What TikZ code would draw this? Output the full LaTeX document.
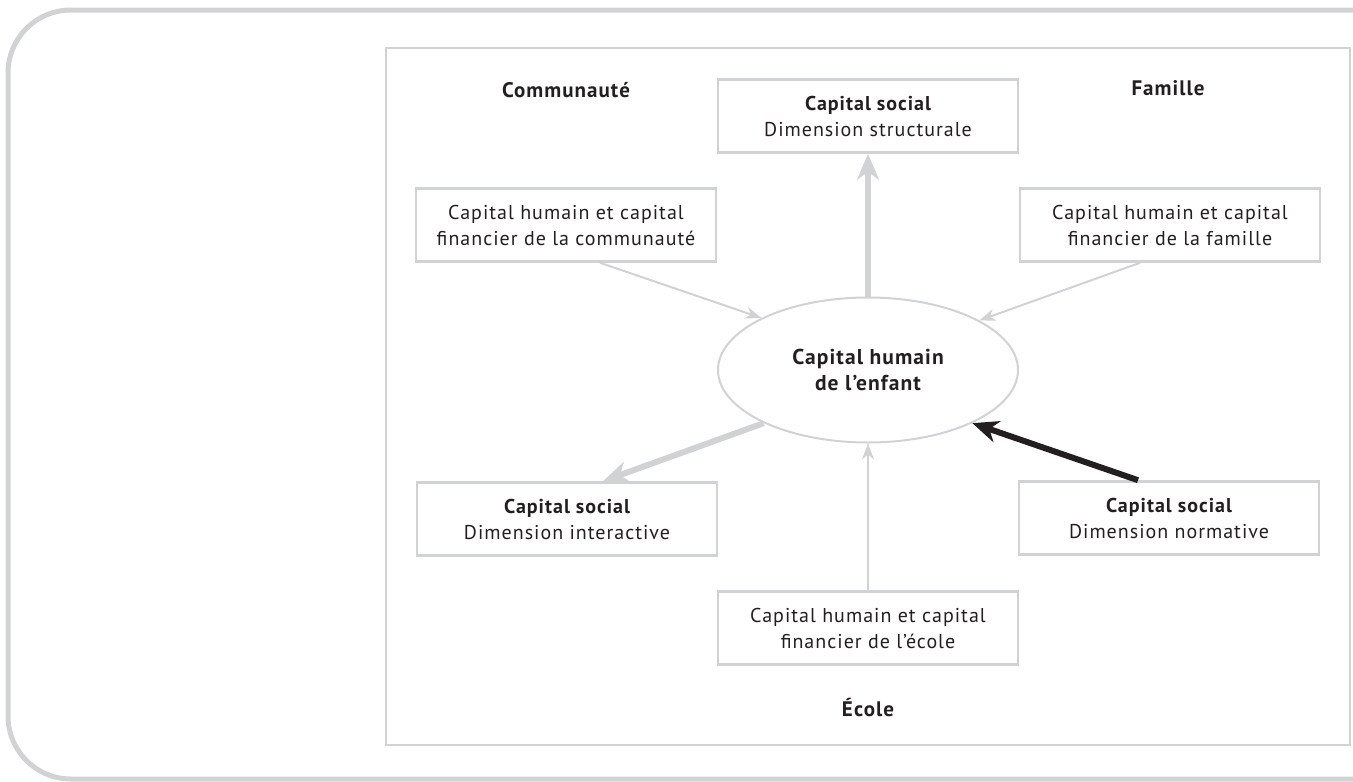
\documentclass[tikz,border=0pt]{standalone}
\usepackage{fontspec}
\setmainfont[LetterSpace=5]{PT Sans}
\usetikzlibrary{arrows.meta,shapes.geometric,calc}
\definecolor{lgray}{HTML}{D1D2D4}
\definecolor{ink}{HTML}{231F20}
\newcommand{\boxhead}[1]{{\bfseries\fontsize{20}{26}\selectfont #1}}
\begin{document}
\begin{tikzpicture}[x=1pt,y=-1pt,
  box/.style={draw=lgray,line width=2.6pt,minimum width=300pt,minimum height=73pt,inner sep=0pt,align=center,text=ink,font=\fontsize{20}{26}\selectfont},
  lab/.style={text=ink,inner sep=0pt,font=\bfseries\fontsize{21}{26}\selectfont},
  thinarrow/.style={draw=lgray,line width=2pt,-{Stealth[length=16pt,width=12pt,inset=5pt]}},
  thickarrow/.style={draw=lgray,line width=6pt,-{Stealth[length=26pt,width=22pt,inset=8pt]}},
  blackarrow/.style={draw=ink,line width=6pt,-{Stealth[length=26pt,width=22pt,inset=8pt]}}
]
\useasboundingbox (0,0) rectangle (1353,782);
\clip (0,0) rectangle (1353,782);
\draw[lgray,line width=5pt,rounded corners=63pt] (8,10) rectangle (1420,779);
\draw[lgray,line width=2pt] (386,48) rectangle (1350,745);

\node[lab] (comm) at (566,90) {Communauté};
\node[lab] (fam) at (1168,88) {Famille};
\node[lab] (ecole) at (868,708) {École};

\node[box] (top) at (868,116) {\boxhead{Capital social}\\Dimension structurale};
\node[box] (lt) at (566,225) {Capital humain et capital\\financier de la communauté};
\node[box] (rt) at (1170,225) {Capital humain et capital\\financier de la famille};
\node[box] (lb) at (567,519) {\boxhead{Capital social}\\Dimension interactive};
\node[box] (rb) at (1169,518) {\boxhead{Capital social}\\Dimension normative};
\node[box] (bot) at (868,628) {Capital humain et capital\\financier de l’école};

\node[ellipse,draw=lgray,line width=2pt,minimum width=300pt,minimum height=145pt,inner sep=0pt,align=center,text=ink,font=\bfseries\fontsize{21.5}{26}\selectfont] (ell) at (868,370) {Capital humain\\de l’enfant};

\draw[thickarrow] (ell.north) -- (top.south);
\draw[thinarrow] ($(lt.south)+(34,0)$) -- (ell.154);
\draw[thinarrow] ($(rt.south)+(-30,0)$) -- (ell.24);
\draw[thickarrow] (ell.207) -- ($(lb.north)+(36,0)$);
\draw[thinarrow] (bot.north) -- (ell.south);
\draw[blackarrow] ($(rb.north)+(-31,0)$) -- (ell.333);
\end{tikzpicture}
\end{document}
